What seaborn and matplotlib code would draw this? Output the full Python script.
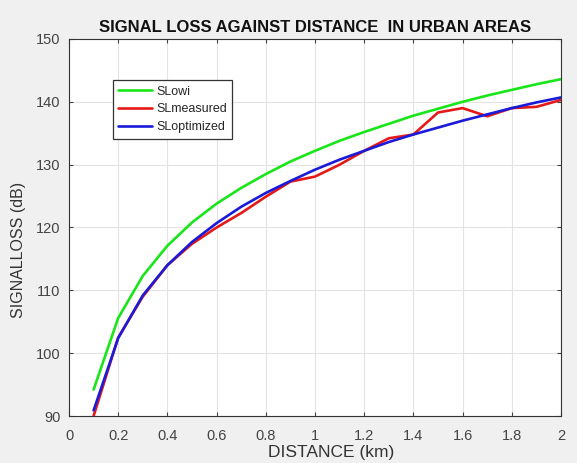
import matplotlib
matplotlib.use("Agg")
import matplotlib.pyplot as plt
import seaborn as sns
import pandas as pd

distance = [0.1, 0.2, 0.3, 0.4, 0.5, 0.6, 0.7, 0.8, 0.9, 1.0,
            1.1, 1.2, 1.3, 1.4, 1.5, 1.6, 1.7, 1.8, 1.9, 2.0]
sl_owi = [94.2, 105.6, 112.3, 117.1, 120.8, 123.8, 126.3, 128.5, 130.5, 132.2,
          133.8, 135.2, 136.5, 137.8, 138.9, 140.0, 141.0, 141.9, 142.8, 143.6]
sl_measured = [90.0, 102.5, 109.0, 114.0, 117.4, 120.0, 122.3, 124.9, 127.3, 128.1,
               130.0, 132.2, 134.2, 134.8, 138.3, 139.0, 137.7, 139.0, 139.2, 140.3]
sl_optimized = [90.9, 102.4, 109.2, 114.0, 117.7, 120.7, 123.3, 125.5, 127.4, 129.2,
                130.8, 132.2, 133.6, 134.8, 135.9, 137.0, 138.0, 139.0, 139.9, 140.7]
series_names = ["SLowi", "SLmeasured", "SLoptimized"]
x_ticks = [0, 0.2, 0.4, 0.6, 0.8, 1, 1.2, 1.4, 1.6, 1.8, 2]
x_tick_labels = ["0", "0.2", "0.4", "0.6", "0.8", "1", "1.2", "1.4", "1.6", "1.8", "2"]
y_ticks = [90, 100, 110, 120, 130, 140, 150]

df = pd.concat([
    pd.DataFrame({"d": distance, "sl": vals, "series": name})
    for name, vals in zip(series_names, [sl_owi, sl_measured, sl_optimized])
])

sns.set_style("whitegrid")
plt.rcParams["font.family"] = ["Liberation Sans", "DejaVu Sans"]

fig = plt.figure(figsize=(5.77, 4.63), dpi=100, facecolor="#f0f0f0")
ax = fig.add_axes([0.1196, 0.1015, 0.8527, 0.8143])
ax.set_facecolor("white")

palette = {"SLowi": "#19e619", "SLmeasured": "#e61919", "SLoptimized": "#1a1ad9"}
sns.lineplot(data=df, x="d", y="sl", hue="series", palette=palette,
             linewidth=1.9, ax=ax, legend=True)

ax.set_xlim(0, 2)
ax.set_ylim(90, 150)
ax.set_xticks(x_ticks)
ax.set_xticklabels(x_tick_labels)
ax.set_yticks(y_ticks)
ax.grid(True, color="#e3e3e3", linewidth=0.8)
ax.tick_params(direction="in", length=3, labelsize=10.5, colors="#444444",
               top=True, right=True, bottom=True, left=True)
ax.tick_params(axis="x", pad=9)
ax.tick_params(axis="y", pad=6)
for s in ax.spines.values():
    s.set_color("#333333")
    s.set_linewidth(0.8)

ax.set_xlabel("DISTANCE (km)", fontsize=12.5, color="#333333", va="top")
ax.xaxis.set_label_coords(0.533, -0.078)
ax.set_ylabel("SIGNALLOSS (dB)", fontsize=11.5, color="#333333")
ax.yaxis.set_label_coords(-0.087, 0.44)
ax.set_title("SIGNAL LOSS AGAINST DISTANCE  IN URBAN AREAS", fontsize=12,
             fontweight="bold", color="#111111", pad=5)

leg = ax.legend(loc="upper left", bbox_to_anchor=(0.089, 0.891), fontsize=9,
                frameon=True, fancybox=False, handlelength=2.7,
                borderpad=0.45, labelspacing=0.45, handletextpad=0.3,
                borderaxespad=0)
leg.get_frame().set_edgecolor("#333333")
leg.get_frame().set_linewidth(0.9)
leg.get_frame().set_alpha(1)

fig.savefig("out.png", dpi=100, facecolor=fig.get_facecolor())
